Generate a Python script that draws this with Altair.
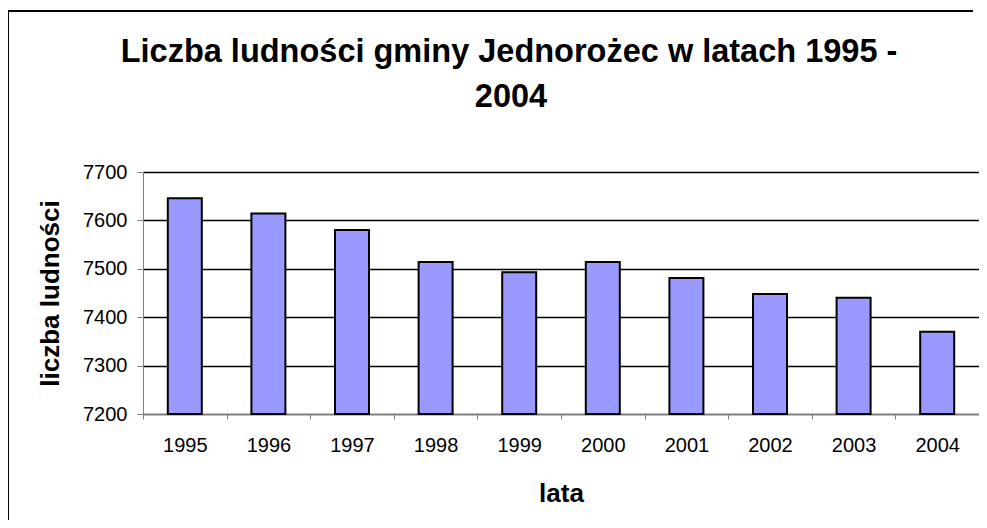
import altair as alt
import pandas as pd

years = ["1995", "1996", "1997", "1998", "1999", "2000", "2001", "2002", "2003", "2004"]
population = [7646, 7614, 7580, 7514, 7493, 7514, 7481, 7448, 7440, 7370]
y_ticks = [7200, 7300, 7400, 7500, 7600, 7700]

title_lines = ["Liczba ludności gminy Jednorożec w latach 1995 -", "2004"]

df = pd.DataFrame({"rok": years, "ludnosc": population})
FONT = "Liberation Sans"

bars = alt.Chart(df).mark_bar(
    size=34, color="#9999FF", stroke="black", strokeWidth=2
).encode(
    x=alt.X("rok:N", sort=years,
            scale=alt.Scale(paddingInner=0, paddingOuter=0),
            axis=alt.Axis(title="lata", labelAngle=0, tickBand="extent",
                          tickSize=5, labelPadding=16, labelFontSize=20,
                          labelFont=FONT, labelColor="black",
                          titleFont=FONT, titleFontSize=26, titleFontWeight="bold",
                          titleColor="black", titleY=79, titleBaseline="middle",
                          domainColor="#808080", tickColor="#808080", grid=False)),
    y=alt.Y("ludnosc:Q",
            scale=alt.Scale(domain=[7200, 7700], zero=False, nice=False),
            axis=alt.Axis(title="liczba ludności", values=y_ticks, format="d",
                          tickSize=6, labelPadding=10, labelFontSize=20,
                          labelFont=FONT, labelColor="black",
                          titleFont=FONT, titleFontSize=26, titleFontWeight="bold",
                          titleColor="black", titleX=-93, titleY=121,
                          titleBaseline="middle", titleAngle=-90,
                          domainColor="#808080", tickColor="#808080",
                          grid=True, gridColor="black", gridWidth=1.3, gridOpacity=1)),
    y2=alt.datum(7200),
)

one = pd.DataFrame({"a": [0]})

border_top = alt.Chart(one).mark_rule(color="black", strokeWidth=2).encode(
    x=alt.value(-136), x2=alt.value(830), y=alt.value(-161)
)
border_left = alt.Chart(one).mark_rule(color="black", strokeWidth=2).encode(
    x=alt.value(-135), y=alt.value(-162), y2=alt.value(348)
)

title1 = alt.Chart(one).mark_text(
    text=title_lines[0], font=FONT, fontSize=32.5, fontWeight="bold", color="black",
    align="center", baseline="middle"
).encode(x=alt.value(366), y=alt.value(-120))

title2 = alt.Chart(one).mark_text(
    text=title_lines[1], font=FONT, fontSize=32.5, fontWeight="bold", color="black",
    align="center", baseline="middle"
).encode(x=alt.value(368), y=alt.value(-75))

chart = alt.layer(bars, border_top, border_left, title1, title2).properties(
    width=836, height=242,
    padding={"left": 135, "top": 164, "right": 0, "bottom": 106},
    autosize=alt.AutoSizeParams(type="none"),
).configure_view(stroke=None)

chart.save("out.html", embed_options={"renderer": "svg", "actions": False})
